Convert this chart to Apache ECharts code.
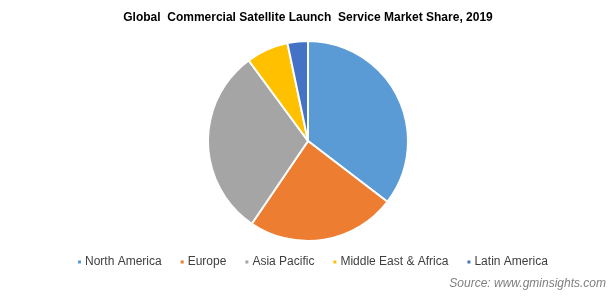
<!DOCTYPE html>
<html><head><meta charset="utf-8">
<script src="https://cdn.jsdelivr.net/npm/echarts@6/dist/echarts.min.js"></script>
<style>html,body{margin:0;padding:0;background:#fff}#c{width:616px;height:296px}</style>
</head><body><div id="c"></div>
<script>
const categories = ["North America", "Europe", "Asia Pacific", "Middle East & Africa", "Latin America"];
const shares = [35.4, 24.1, 30.4, 6.8, 3.3];
const colors = ["#5B9BD5", "#ED7D31", "#A5A5A5", "#FFC000", "#4472C4"];
const titleText = "Global  Commercial Satellite Launch  Service Market Share, 2019";
const sourceText = "Source: www.gminsights.com";

const chart = echarts.init(document.getElementById('c'), null, {renderer: 'canvas'});
chart.setOption({
  animation: false,
  color: colors,
  title: {
    text: titleText, left: 'center', top: 7,
    textStyle: {fontFamily: 'Liberation Sans, Arial', fontSize: 12, fontWeight: 'bold', color: '#000'}
  },
  legend: {
    data: categories, top: 256, left: 76, itemGap: 17, padding: 0,
    itemWidth: 5, itemHeight: 5, icon: 'rect',
    textStyle: {fontFamily: 'Liberation Sans, Arial', fontSize: 12, color: '#404040', padding: [0,0,0,-2]}
  },
  graphic: [{
    type: 'text', right: 10, top: 278,
    style: {text: sourceText, font: 'italic 12px Liberation Sans, Arial', fill: '#7f7f7f'}
  }],
  series: [{
    type: 'pie', center: [308, 141], radius: 100, startAngle: 90, clockwise: true,
    label: {show: false}, labelLine: {show: false},
    itemStyle: {borderColor: '#fff', borderWidth: 2},
    emphasis: {disabled: true},
    data: categories.map((n, i) => ({name: n, value: shares[i]}))
  }]
});
</script></body></html>
